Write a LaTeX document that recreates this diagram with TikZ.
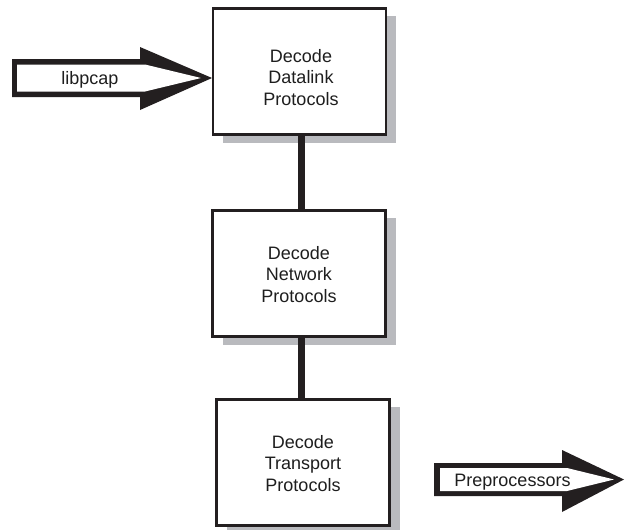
\documentclass[tikz,border=0pt]{standalone}
\usepackage{fontspec}
\setmainfont{Liberation Sans}
\usetikzlibrary{shadows}
\definecolor{inkblack}{RGB}{35,31,32}
\definecolor{shadowgray}{RGB}{185,186,190}
\definecolor{textdark}{RGB}{30,30,30}
\begin{document}
\begin{tikzpicture}[x=1pt,y=-1pt,
  stagebox/.style={draw=inkblack,line width=2.7pt,fill=white,
    minimum width=173pt,minimum height=126.3pt,inner sep=0pt,
    drop shadow={shadow xshift=10pt,shadow yshift=-8pt,fill=shadowgray,opacity=1}},
  stagetext/.style={anchor=base,inner sep=0pt,text=textdark,
    font=\fontsize{18}{21.7}\selectfont},
  link/.style={draw=inkblack,line width=7pt},
  arrowout/.style={fill=inkblack},
  arrowin/.style={fill=white}]
\useasboundingbox (0,0) rectangle (625,530);

% boxes
\node[stagebox] (dl) at (299.5,71.5) {};
\node[stagebox] (nw) at (299,273.5) {};
\node[stagebox] (tr) at (303,462.5) {};

% box texts
\node[stagetext] (dlt) at (301,62) {\begin{tabular}[t]{@{}c@{}}Decode\\Datalink\\Protocols\end{tabular}};
\node[stagetext] (nwt) at (299,259) {\begin{tabular}[t]{@{}c@{}}Decode\\Network\\Protocols\end{tabular}};
\node[stagetext] (trt) at (303,448) {\begin{tabular}[t]{@{}c@{}}Decode\\Transport\\Protocols\end{tabular}};

% connectors
\coordinate (cx) at (301.5,0);
\draw[link] (dl.south -| cx) -- (nw.north -| cx);
\draw[link] (nw.south -| cx) -- (tr.north -| cx);

% libpcap arrow
\fill[arrowout] (12,59) -- (140,59) -- (140,47) -- (212,78) -- (140,110) -- (140,97) -- (12,97) -- cycle;
\fill[arrowin] (17,64.5) -- (145,64.5) -- (201,78) -- (145,91.5) -- (17,91.5) -- cycle;
\node[stagetext] (lib) at (90,84.5) {libpcap};

% preprocessors arrow
\fill[arrowout] (434,463) -- (562,463) -- (562,450) -- (624,479.5) -- (562,512) -- (562,496) -- (434,496) -- cycle;
\fill[arrowin] (440,468) -- (567,468) -- (614,479.5) -- (567,491) -- (440,491) -- cycle;
\node[stagetext] (pre) at (512.5,486.5) {Preprocessors};
\end{tikzpicture}
\end{document}
